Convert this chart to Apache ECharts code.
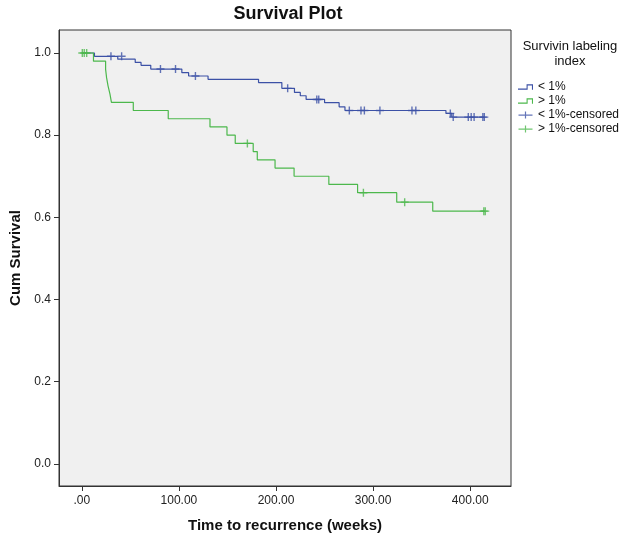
<!DOCTYPE html>
<html>
<head>
    <meta charset="utf-8">
    <title>Survival Plot</title>
    <script src="https://cdn.jsdelivr.net/npm/echarts@6/dist/echarts.min.js"></script>
    <style>
        html, body { margin: 0; padding: 0; background: #fff; }
        #main { width: 625px; height: 542px; }
    </style>
</head>
<body>
<div id="main"></div>
<script type="text/javascript">
    // Kaplan-Meier steps: [weeks, cum survival]
    var lowSteps = [
        [0, 1.0], [13, 0.992], [37, 0.985], [55, 0.977], [61, 0.970], [71, 0.961],
        [103, 0.952], [110, 0.944], [130, 0.936], [182, 0.928], [206, 0.914],
        [219, 0.904], [225, 0.896], [231, 0.887], [250, 0.879], [265, 0.869],
        [271, 0.860], [375, 0.853], [381, 0.844], [415, 0.844]
    ];
    var highSteps = [
        [0, 1.0], [12, 0.98], [24.5, 0.96], [25.5, 0.94], [27, 0.92], [29, 0.90],
        [30.5, 0.88], [53, 0.86], [89, 0.84], [132, 0.82], [149.5, 0.80], [158, 0.78],
        [176.5, 0.76], [180.7, 0.74], [199, 0.72], [218.6, 0.70], [254.4, 0.68],
        [284, 0.66], [324.3, 0.637], [361.4, 0.615], [415, 0.615]
    ];
    // censored cases
    var lowCensored = [
        [30, 0.992], [41, 0.992], [81, 0.961], [96.5, 0.961], [117, 0.944],
        [212, 0.914], [242, 0.887], [244, 0.887], [275.5, 0.860], [287.5, 0.860],
        [291, 0.860], [307, 0.860], [340, 0.860], [344, 0.860], [379.5, 0.853],
        [382.5, 0.844], [398, 0.844], [401, 0.844], [404, 0.844], [413, 0.844], [414.5, 0.844]
    ];
    var highCensored = [
        [0.5, 1.0], [2.5, 1.0], [5, 1.0], [170.5, 0.78], [290, 0.66],
        [332.5, 0.637], [414, 0.615], [415.5, 0.615]
    ];
    var groupNames = ['< 1%', '> 1%', '< 1%-censored', '> 1%-censored'];
    var xTicks = [0, 100, 200, 300, 400];
    var yTicks = [0, 0.2, 0.4, 0.6, 0.8, 1.0];

    var blue = '#3c51a6';
    var green = '#4cb84c';
    var stepIcon = 'path://M0,4L8,4L8,0L14,0L14,5L13,5L13,1L9,1L9,5L0,5Z';
    var plusIcon = 'path://M0,3L14,3L14,4.2L0,4.2Z M6.4,0L7.6,0L7.6,7L6.4,7Z';
    var plusMark = 'path://M0,3.3L8,3.3L8,4.7L0,4.7Z M3.3,0L4.7,0L4.7,8L3.3,8Z';
    var font = 'Arial, "Liberation Sans", sans-serif';

    var myChart = echarts.init(document.getElementById('main'));

    var option = {
        animation: false,
        backgroundColor: '#fff',
        textStyle: { fontFamily: font },
        title: [
            {
                text: 'Survival Plot',
                left: 283, top: 0, textAlign: 'center',
                textStyle: { fontSize: 18, fontWeight: 'bold', color: '#111', fontFamily: font }
            },
            {
                text: 'Survivin labeling\nindex',
                left: 565, top: 34, textAlign: 'center',
                textStyle: { fontSize: 13, fontWeight: 'normal', color: '#111', lineHeight: 15, fontFamily: font }
            }
        ],
        legend: {
            orient: 'vertical',
            left: 513, top: 76,
            itemWidth: 15, itemHeight: 7, itemGap: 2,
            textStyle: { fontSize: 12, color: '#111', fontFamily: font },
            itemStyle: { borderWidth: 0 },
            data: [
                { name: groupNames[0], icon: stepIcon },
                { name: groupNames[1], icon: stepIcon },
                { name: groupNames[2], icon: plusIcon },
                { name: groupNames[3], icon: plusIcon }
            ]
        },
        grid: {
            left: 56, right: 114, top: 30, bottom: 56,
            show: true, backgroundColor: '#f0f0f0',
            borderColor: '#333', borderWidth: 1
        },
        xAxis: {
            type: 'value', min: -23.5, max: 442,
            name: 'Time to recurrence (weeks)', nameLocation: 'middle', nameGap: 32,
            nameTextStyle: { fontSize: 15, fontWeight: 'bold', color: '#111', fontFamily: font },
            axisLine: { show: true, onZero: false, lineStyle: { color: '#333' } },
            axisTick: { show: true, length: 5, lineStyle: { color: '#333' }, customValues: xTicks },
            axisLabel: {
                fontSize: 12, color: '#222', margin: 9, customValues: xTicks,
                formatter: function (v) { return v === 0 ? '.00' : v.toFixed(2); }
            },
            splitLine: { show: false }
        },
        yAxis: {
            type: 'value', min: -0.054, max: 1.056,
            name: 'Cum Survival', nameLocation: 'middle', nameGap: 36,
            nameTextStyle: { fontSize: 15, fontWeight: 'bold', color: '#111', fontFamily: font },
            axisLine: { show: true, onZero: false, lineStyle: { color: '#333' } },
            axisTick: { show: true, length: 5, lineStyle: { color: '#333' }, customValues: yTicks },
            axisLabel: {
                fontSize: 12, color: '#222', margin: 8, customValues: yTicks,
                formatter: function (v) { return v.toFixed(1); }
            },
            splitLine: { show: false }
        },
        series: [
            {
                name: groupNames[0], type: 'line', step: 'end', data: lowSteps,
                showSymbol: false, color: blue, lineStyle: { width: 1.2, color: blue }
            },
            {
                name: groupNames[1], type: 'line', step: 'end', data: highSteps,
                showSymbol: false, color: green, lineStyle: { width: 1.2, color: green }
            },
            {
                name: groupNames[2], type: 'scatter', data: lowCensored,
                symbol: plusMark, symbolSize: 8, color: blue, z: 3
            },
            {
                name: groupNames[3], type: 'scatter', data: highCensored,
                symbol: plusMark, symbolSize: 8, color: green, z: 3
            }
        ]
    };

    myChart.setOption(option);
</script>
</body>
</html>
